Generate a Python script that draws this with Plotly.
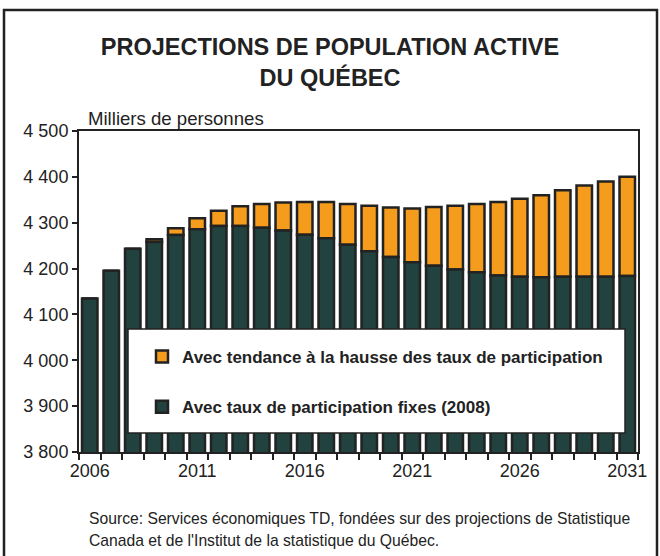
import plotly.graph_objects as go

years = list(range(2006, 2032))
fixed_rates = [4135, 4195, 4243, 4258, 4273, 4286, 4293, 4293, 4289, 4283,
               4274, 4266, 4252, 4238, 4225, 4214, 4206, 4198, 4192, 4185,
               4182, 4181, 4182, 4182, 4182, 4184]
rising_total = [4135, 4195, 4243, 4264, 4288, 4310, 4326, 4336, 4341, 4344,
                4345, 4345, 4341, 4337, 4333, 4331, 4334, 4337, 4341, 4345,
                4352, 4360, 4371, 4381, 4390, 4400]
rising_extra = [t - f for t, f in zip(rising_total, fixed_rates)]

y_tickvals = [3800, 3900, 4000, 4100, 4200, 4300, 4400, 4500]
y_ticktext = ["3 800", "3 900", "4 000", "4 100", "4 200", "4 300", "4 400", "4 500"]
x_tickvals = [2006, 2011, 2016, 2021, 2026, 2031]

name_fixed = "Avec taux de participation fixes (2008)"
name_rising = "Avec tendance à la hausse des taux de participation"

DARK = "#22423f"
ORANGE = "#f59c1c"
EDGE = "#222222"
FONT = "Liberation Sans, Arial, sans-serif"

# plot area in pixels
L, R, T, B = 79, 638, 131, 452
W, H = 660, 556
def px(x):
    return (x - L) / (R - L)
def py(y):
    return (B - y) / (B - T)

fig = go.Figure()
fig.add_trace(go.Bar(x=years, y=rising_extra, base=fixed_rates, name=name_rising, width=0.72,
                     marker=dict(color=ORANGE, line=dict(color=EDGE, width=2.5)),
                     legendgroup="a"))
fig.add_trace(go.Bar(x=years, y=fixed_rates, name=name_fixed, width=0.72,
                     marker=dict(color=DARK, line=dict(color=EDGE, width=2.5)),
                     legendgroup="b"))

fig.update_layout(
    width=W, height=H,
    margin=dict(l=L, r=W - R, t=T, b=H - B, autoexpand=False),
    paper_bgcolor="white", plot_bgcolor="white",
    barmode="overlay",
    hovermode=False,
    font=dict(family=FONT, color="#222222", size=18),
    title=dict(text="<b>PROJECTIONS DE POPULATION ACTIVE<br>DU QUÉBEC</b>",
               x=0.5, xref="container", xanchor="center",
               y=1 - 55 / H, yref="container", yanchor="middle",
               font=dict(size=23.5, color="#222222", family=FONT)),
    showlegend=True,
    legend=dict(x=px(142), y=py(339), xanchor="left", yanchor="top",
                bgcolor="rgba(0,0,0,0)", borderwidth=0,
                traceorder="grouped", tracegroupgap=25,
                font=dict(size=17, color="#222222", family=FONT, weight="bold"),
                itemclick=False),
    xaxis=dict(range=[2005.5, 2031.5], tickvals=x_tickvals,
               ticks="outside", ticklen=1, tickcolor="rgba(0,0,0,0)",
               minor=dict(ticks="outside", ticklen=6, tickcolor=EDGE, tickwidth=2,
                          tick0=2005.5, dtick=1),
               showline=True, linecolor=EDGE, linewidth=2, mirror=True,
               showgrid=False, zeroline=False, automargin=False,
               tickfont=dict(size=18)),
    yaxis=dict(range=[3800, 4500], tickvals=y_tickvals, ticktext=y_ticktext,
               ticks="outside", ticklen=5, tickcolor=EDGE, tickwidth=2,
               showline=True, linecolor=EDGE, linewidth=2, mirror=True,
               showgrid=False, zeroline=False, automargin=False,
               tickfont=dict(size=18)),
    shapes=[
        dict(type="rect", xref="paper", yref="paper",
             x0=px(128), x1=px(625), y0=py(433), y1=py(329),
             fillcolor="white", line=dict(color=EDGE, width=1.5), layer="above"),
        dict(type="rect", xref="paper", yref="paper",
             x0=px(4), x1=px(657), y0=py(575), y1=py(10),
             fillcolor="rgba(0,0,0,0)", line=dict(color=EDGE, width=2.5), layer="above"),
    ],
    annotations=[
        dict(text="Milliers de personnes", xref="paper", yref="paper",
             x=px(86), y=py(118), xanchor="left", yanchor="middle",
             showarrow=False, font=dict(size=18.6, color="#222222")),
        dict(text="Source: Services économiques TD, fondées sur des projections de Statistique",
             xref="paper", yref="paper", x=px(87), y=py(518), xanchor="left", yanchor="middle",
             showarrow=False, font=dict(size=15.7, color="#222222")),
        dict(text="Canada et de l'Institut de la statistique du Québec.",
             xref="paper", yref="paper", x=px(87), y=py(540), xanchor="left", yanchor="middle",
             showarrow=False, font=dict(size=15.7, color="#222222")),
    ],
)

fig.write_html("out.html", config={"displayModeBar": False, "staticPlot": True},
               post_script="document.body.style.margin='0';")
